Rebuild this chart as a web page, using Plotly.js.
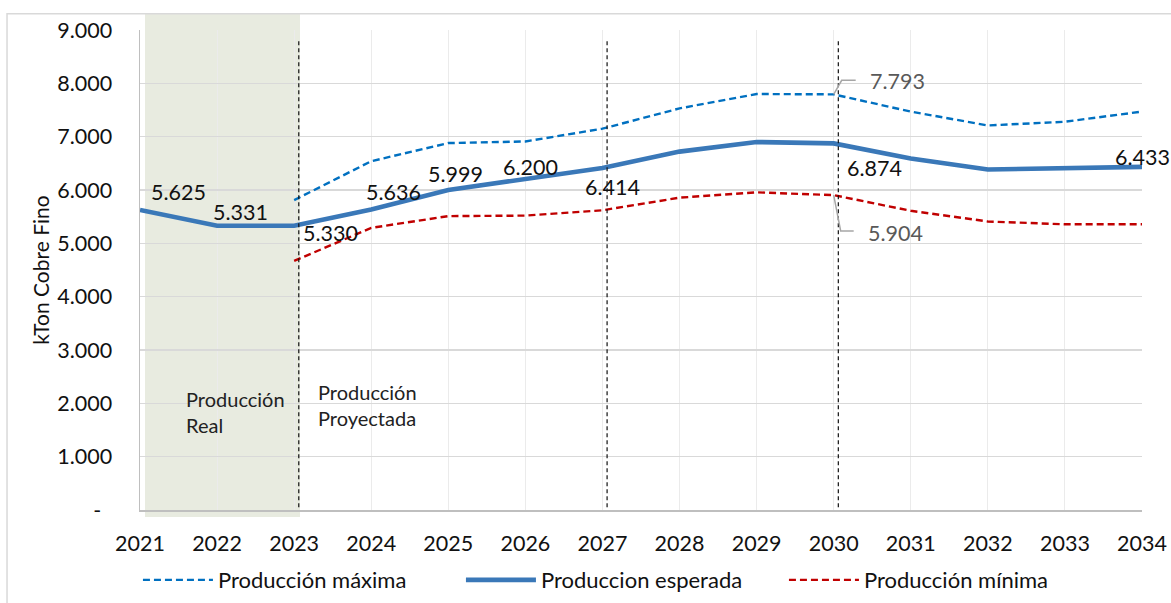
<!DOCTYPE html>
<html>
<head>
<meta charset="utf-8">
<script src="https://cdn.plot.ly/plotly-3.0.1.min.js"></script>
<style>
  html, body { margin: 0; padding: 0; background: #ffffff; }
  #chart { width: 1171px; height: 603px; }
</style>
</head>
<body>
<div id="chart"></div>
<script>
// Copper production (kTon of fine copper), actual 2021-2023 and projected to 2034
const years = [2021, 2022, 2023, 2024, 2025, 2026, 2027, 2028, 2029, 2030, 2031, 2032, 2033, 2034];
const prodMaxima   = [null, null, 5810, 6540, 6880, 6910, 7150, 7530, 7800, 7793, 7470, 7210, 7280, 7470];
const prodEsperada = [5625, 5331, 5330, 5636, 5999, 6200, 6414, 6720, 6900, 6874, 6590, 6385, 6405, 6433];
const prodMinima   = [null, null, 4670, 5290, 5510, 5520, 5620, 5856, 5956, 5904, 5610, 5410, 5357, 5357];

const seriesNames = ['Producción máxima', 'Produccion esperada', 'Producción mínima'];
const yTickVals = [0, 1000, 2000, 3000, 4000, 5000, 6000, 7000, 8000, 9000];
const milestoneYears = [2023, 2027, 2030];
const areaLabels = ['Producción<br>Real', 'Producción<br>Proyectada'];

// thousands with a dot, as in es-CL
function fmt(v) {
  if (v === 0) return '-\u00a0\u00a0';
  const k = Math.floor(v / 1000);
  const r = String(v % 1000).padStart(3, '0');
  return k + '.' + r;
}

const FONT = 'Lato, "Open Sans", sans-serif';
const INK = '#111111';
const FS = 21.5;

const traces = [
  {
    x: years, y: prodMaxima, name: seriesNames[0], type: 'scatter', mode: 'lines',
    line: { color: '#0070C0', width: 2.4, dash: '7px,4px' }
  },
  {
    x: years, y: prodEsperada, name: seriesNames[1], type: 'scatter', mode: 'lines',
    line: { color: '#3A78B8', width: 4.6 }
  },
  {
    x: years, y: prodMinima, name: seriesNames[2], type: 'scatter', mode: 'lines',
    line: { color: '#C00000', width: 2.4, dash: '7px,4px' }
  }
];

// value labels: which series, which year, offset from the point in px
const seriesByKey = { max: prodMaxima, esp: prodEsperada, min: prodMinima };
const valueLabels = [
  { s: 'esp', yr: 2021, dx: 38, dy: 18, c: INK },
  { s: 'esp', yr: 2022, dx: 23, dy: 14, c: INK },
  { s: 'esp', yr: 2023, dx: 36, dy: -7, c: INK },
  { s: 'esp', yr: 2024, dx: 22, dy: 17, c: INK },
  { s: 'esp', yr: 2025, dx: 7,  dy: 16, c: INK },
  { s: 'esp', yr: 2026, dx: 5,  dy: 12, c: INK },
  { s: 'esp', yr: 2027, dx: 10, dy: -19, c: INK },
  { s: 'max', yr: 2030, dx: 64, dy: 13, c: '#595959' },
  { s: 'esp', yr: 2030, dx: 41, dy: -25, c: INK },
  { s: 'min', yr: 2030, dx: 62, dy: -38, c: '#595959' },
  { s: 'esp', yr: 2034, dx: 0,  dy: 10, c: INK }
];

const annotations = valueLabels.map(l => {
  const v = seriesByKey[l.s][years.indexOf(l.yr)];
  return {
    x: l.yr, y: v, xref: 'x', yref: 'y', text: fmt(v), showarrow: false,
    xshift: l.dx, yshift: l.dy, xanchor: 'center', yanchor: 'middle',
    font: { family: FONT, size: FS, color: l.c }
  };
});

annotations.push(
  { xref: 'paper', yref: 'paper', x: 0.044, y: 0.2046, xanchor: 'left', yanchor: 'middle',
    align: 'left', text: areaLabels[0], showarrow: false,
    font: { family: FONT, size: 20, color: '#222222' } },
  { xref: 'paper', yref: 'paper', x: 0.1756, y: 0.218, xanchor: 'left', yanchor: 'middle',
    align: 'left', text: areaLabels[1], showarrow: false,
    font: { family: FONT, size: 20, color: '#222222' } }
);

const shapes = [
  // shaded band for the actual-production years
  { type: 'rect', xref: 'paper', yref: 'paper', x0: 0.005, x1: 0.1597, y0: -0.0146, y1: 1.035,
    fillcolor: '#E8EBE0', line: { width: 0 }, layer: 'below' },
  // outer frame
  { type: 'rect', xref: 'paper', yref: 'paper', x0: -0.1327, x1: 1.04, y0: -0.25, y1: 1.034,
    fillcolor: 'rgba(0,0,0,0)', line: { color: '#D9D9D9', width: 1.5 }, layer: 'below' }
];

milestoneYears.forEach(yr => {
  shapes.push({ type: 'line', xref: 'x', yref: 'y', x0: yr + 0.06, x1: yr + 0.06, y0: 50, y1: 8840,
    line: { color: '#111111', width: 1.2, dash: '4px,3px' }, layer: 'above' });
});

// leader lines for the 2030 max / min labels (pixel offsets from the point)
const i2030 = years.indexOf(2030);
shapes.push(
  { type: 'path', xref: 'x', yref: 'y', xsizemode: 'pixel', ysizemode: 'pixel',
    xanchor: 2030, yanchor: prodMaxima[i2030], path: 'M0,0 L8,14 L22,14',
    line: { color: '#A6A6A6', width: 1.5 }, layer: 'above' },
  { type: 'path', xref: 'x', yref: 'y', xsizemode: 'pixel', ysizemode: 'pixel',
    xanchor: 2030, yanchor: prodMinima[i2030], path: 'M0,0 L7,-36 L20,-36',
    line: { color: '#A6A6A6', width: 1.5 }, layer: 'above' }
);

const layout = {
  width: 1171, height: 603,
  margin: { l: 140, r: 29, t: 30, b: 93 },
  paper_bgcolor: '#ffffff',
  plot_bgcolor: 'rgba(0,0,0,0)',
  font: { family: FONT, size: FS, color: INK },
  xaxis: {
    range: [2021, 2034], tickvals: years, ticktext: years.map(String),
    showgrid: true, gridcolor: '#EBEBEB', gridwidth: 1,
    showline: true, linecolor: '#BFBFBF', linewidth: 1.5,
    zeroline: false, ticks: '', ticklabelstandoff: 14,
    tickfont: { family: FONT, size: FS, color: INK }
  },
  yaxis: {
    range: [0, 9000], tickvals: yTickVals, ticktext: yTickVals.map(fmt),
    showgrid: true, gridcolor: '#D9D9D9', gridwidth: 1.2,
    showline: true, linecolor: '#BFBFBF', linewidth: 1.5,
    zeroline: false, ticks: '', ticklabelstandoff: 22,
    tickfont: { family: FONT, size: FS, color: INK },
    title: { text: 'kTon Cobre Fino', standoff: 2, font: { family: FONT, size: 21, color: INK } }
  },
  showlegend: true,
  legend: {
    orientation: 'h', xref: 'container', yref: 'container',
    x: 0.1178, y: 0.038, xanchor: 'left', yanchor: 'middle',
    itemwidth: 70, entrywidth: 238, font: { family: FONT, size: 22, color: INK },
    bgcolor: 'rgba(0,0,0,0)', traceorder: 'normal'
  },
  shapes: shapes,
  annotations: annotations,
  hovermode: false
};

Plotly.newPlot('chart', traces, layout, { displayModeBar: false, staticPlot: true });
</script>
</body>
</html>
